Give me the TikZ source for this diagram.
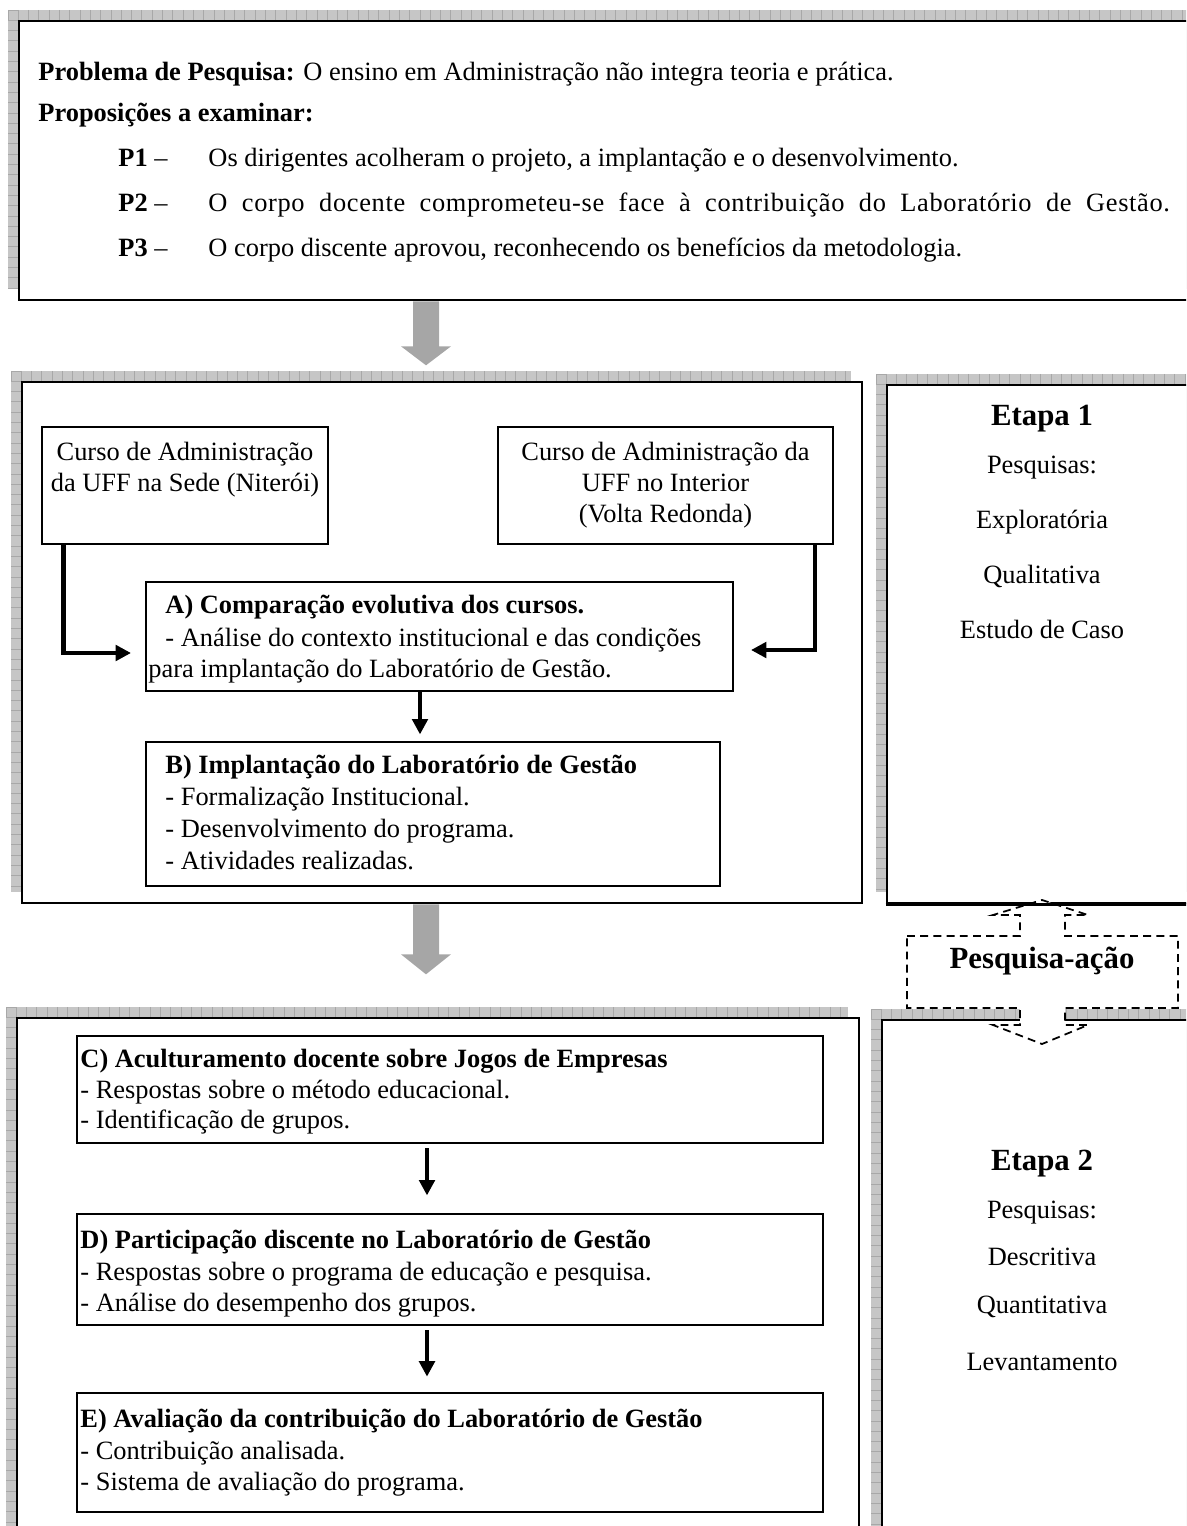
\documentclass[tikz,border=0pt]{standalone}
\usepackage{fontspec}
\setmainfont{Liberation Serif}
\usetikzlibrary{fit,arrows.meta}
\definecolor{shadowgray}{RGB}{198,198,198}
\definecolor{shadowline}{RGB}{168,168,168}
\definecolor{arrowgray}{RGB}{166,166,166}

% hatched shadow strip above and left of a big frame (x0,y0)-(x1,y1)
\newcommand\hatchshadow[4]{%
  \fill[shadowgray] (#1-11,#2-11) rectangle (#3-11,#4-11);
  \pgfmathtruncatemacro\nx{(#3-#1)/10.3}
  \pgfmathtruncatemacro\ny{(#4-#2)/10.3}
  \foreach \k in {0,...,\nx}
    \draw[shadowline,line width=0.4pt] ({#1-11+\k*10.3},#2-11) -- ++(0,11);
  \foreach \k in {0,...,\ny}
    \draw[shadowline,line width=0.4pt] (#1-11,{#2-11+\k*10.3}) -- ++(11,0);
}

\tikzset{
  bigbox/.style={draw,line width=1.2pt,fill=white,inner sep=0pt},
  innerbox/.style={draw,line width=0.9pt,fill=white,inner sep=0pt},
  txt/.style={anchor=west,inner sep=0pt,text height=9pt,text depth=1pt,font=\fontsize{12}{14}\selectfont},
  ctxt/.style={txt,anchor=center},
  headtxt/.style={anchor=center,inner sep=0pt,text height=10.4pt,text depth=1pt,font=\fontsize{14}{16}\selectfont\bfseries},
  blackarrow/.style={line width=2.2pt,-{Triangle[length=7pt,width=7pt]}},
  grayarrow/.style={fill=arrowgray},
  dashedframe/.style={draw,dashed,dash pattern=on 3.6pt off 2.4pt,line width=0.8pt,fill=white}
}

\begin{document}
\begin{tikzpicture}[x=0.4545pt,y=-0.4545pt]
\useasboundingbox (0,0) rectangle (1186,1526);
\clip (0,0) rectangle (1186,1526);

% frames with their shadows
\hatchshadow{19}{21}{1200}{300}
\hatchshadow{22}{382}{862}{903}
\hatchshadow{887}{385}{1200}{903}
\hatchshadow{17}{1018}{859}{1540}
\hatchshadow{882}{1020}{1200}{1540}
\node[bigbox,fit={(19,21) (1200,300)}] (problem) {};
\node[bigbox,fit={(22,382) (862,903)}] (stage1) {};
\node[bigbox,fit={(887,385) (1200,903)}] (etapa1) {};
\node[bigbox,fit={(17,1018) (859,1540)}] (stage2) {};
\node[bigbox,fit={(882,1020) (1200,1540)}] (etapa2) {};

% research problem and propositions
\node[txt] (prob) at (38,72) {\textbf{Problema de Pesquisa:} O ensino em Administração não integra teoria e prática.};
\node[txt] (prop) at (38,113) {\textbf{Proposições a examinar:}};
\node[txt] (p1l) at (118,158) {\textbf{P1} –};
\node[txt] (p1t) at (208,158) {Os dirigentes acolheram o projeto, a implantação e o desenvolvimento.};
\node[txt] (p2l) at (118,203) {\textbf{P2} –};
\node[txt] (p2t) at (208,203) {\addfontfeature{LetterSpace=2.5}\makebox[437pt][s]{O corpo docente comprometeu-se face à contribuição do Laboratório de Gestão.}};
\node[txt] (p3l) at (118,248) {\textbf{P3} –};
\node[txt] (p3t) at (208,248) {O corpo discente aprovou, reconhecendo os benefícios da metodologia.};

% broad grey arrows between the frames
\path (426,0) coordinate (colgray);
\fill[grayarrow] (problem.south -| colgray) ++(-13,0) -- ++(26,0) -- ++(0,45) -- ++(12,0)
  -- ++(-25,19) -- ++(-25,-19) -- ++(12,0) -- cycle;
\fill[grayarrow] (stage1.south -| colgray) ++(-13,0) -- ++(26,0) -- ++(0,50) -- ++(12,0)
  -- ++(-25,20) -- ++(-25,-20) -- ++(12,0) -- cycle;

% stage 1
\node[innerbox,fit={(42,427) (328,544)}] (sede) {};
\node[ctxt] at (185,452) {Curso de Administração};
\node[ctxt] at (185,483) {da UFF na Sede (Niterói)};
\node[innerbox,fit={(498,427) (833,544)}] (interior) {};
\node[ctxt] at (665.5,452) {Curso de Administração da};
\node[ctxt] at (665.5,483) {UFF no Interior};
\node[ctxt] at (665.5,514) {(Volta Redonda)};

\node[innerbox,fit={(146,582) (733,691)}] (boxA) {};
\node[txt] at (165,605) {\textbf{A) Comparação evolutiva dos cursos.}};
\node[txt] at (165,638) {- Análise do contexto institucional e das condições};
\node[txt] at (148,669) {para implantação do Laboratório de Gestão.};

\node[innerbox,fit={(146,742) (720,886)}] (boxB) {};
\node[txt] at (165,765) {\textbf{B) Implantação do Laboratório de Gestão}};
\node[txt] at (165,797) {- Formalização Institucional.};
\node[txt] at (165,829) {- Desenvolvimento do programa.};
\node[txt] at (165,861) {- Atividades realizadas.};

\path (63.5,0) coordinate (colL) (815,0) coordinate (colR) (420,0) coordinate (colAB);
\coordinate (endL) at (131,653);
\coordinate (endR) at (751,650);
\draw[blackarrow] (sede.south -| colL) |- (endL);
\draw[blackarrow] (interior.south -| colR) |- (endR);
\draw[blackarrow] (boxA.south -| colAB) -- ([yshift=3pt]boxB.north -| colAB);

% stage 1 research types
\node[headtxt] at (1042,415) {Etapa 1};
\node[ctxt] at (1042,465) {Pesquisas:};
\node[ctxt] at (1042,520) {Exploratória};
\node[ctxt] at (1042,575) {Qualitativa};
\node[ctxt] at (1042,630) {Estudo de Caso};

% stage 2
\node[innerbox,fit={(77,1036) (823,1143)}] (boxC) {};
\node[txt] at (80,1059) {\textbf{C) Aculturamento docente sobre Jogos de Empresas}};
\node[txt] at (80,1090) {- Respostas sobre o método educacional.};
\node[txt] at (80,1120) {- Identificação de grupos.};

\node[innerbox,fit={(77,1214) (823,1325)}] (boxD) {};
\node[txt] at (80,1240) {\textbf{D) Participação discente no Laboratório de Gestão}};
\node[txt] at (80,1272) {- Respostas sobre o programa de educação e pesquisa.};
\node[txt] at (80,1303) {- Análise do desempenho dos grupos.};

\node[innerbox,fit={(77,1393) (823,1512)}] (boxE) {};
\node[txt] at (80,1419) {\textbf{E) Avaliação da contribuição do Laboratório de Gestão}};
\node[txt] at (80,1451) {- Contribuição analisada.};
\node[txt] at (80,1482) {- Sistema de avaliação do programa.};

\path (427,0) coordinate (colCD);
\draw[blackarrow] ([yshift=-2pt]boxC.south -| colCD) -- ([yshift=8pt]boxD.north -| colCD);
\draw[blackarrow] ([yshift=-2pt]boxD.south -| colCD) -- ([yshift=7pt]boxE.north -| colCD);

% stage 2 research types
\node[headtxt] at (1042,1160) {Etapa 2};
\node[ctxt] at (1042,1210) {Pesquisas:};
\node[ctxt] at (1042,1257) {Descritiva};
\node[ctxt] at (1042,1305) {Quantitativa};
\node[ctxt] at (1042,1362) {Levantamento};

% two-headed dashed arrow linking the stages
\path[dashedframe] (907,936) -- (1020,936) -- (1020,915) -- (993,915) -- (1042,900)
  -- (1088,915) -- (1065,915) -- (1065,936) -- (1178,936) -- (1178,1008)
  -- (1065,1008) -- (1065,1025) -- (1088,1025) -- (1042,1044) -- (993,1025)
  -- (1020,1025) -- (1020,1008) -- (907,1008) -- cycle;
\node[headtxt] (action) at (1042,958) {Pesquisa-ação};
\draw[line width=1.2pt] (etapa1.south west) -- (etapa1.south east);
\end{tikzpicture}
\end{document}
